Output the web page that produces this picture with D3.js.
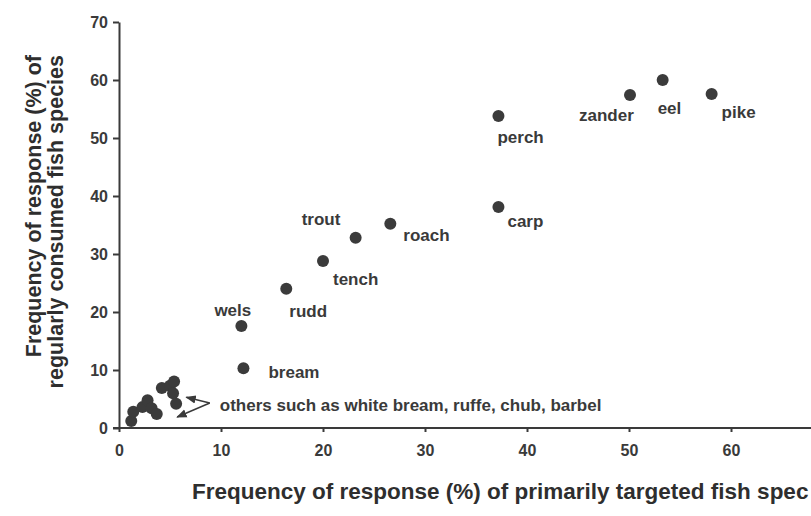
<!DOCTYPE html>
<html>
<head>
<meta charset="utf-8">
<script src="https://cdn.jsdelivr.net/npm/d3@7"></script>
<style>
  body { margin: 0; background: #fff; }
  svg { display: block; font-family: 'Liberation Sans', Arial, sans-serif; font-weight: bold; }
  .axis path, .axis line { stroke: #3a3a3a; stroke-width: 2; }
  .axis text { fill: #3a3a3a; font-size: 16px; font-weight: bold; font-family: 'Liberation Sans', Arial, sans-serif; }
  .lbl { fill: #3a3a3a; font-size: 17px; }
  .title { fill: #2e2e2e; font-size: 21.5px; }
  .xtitle { font-size: 22.5px; }
</style>
</head>
<body>
<svg width="811" height="516"></svg>
<script>
// named species: primarily targeted (%) vs regularly consumed (%)
const species = ['pike', 'eel', 'zander', 'perch', 'carp', 'roach', 'trout', 'tench', 'rudd', 'wels', 'bream'];
const targeted = [58.1, 53.3, 50.1, 37.2, 37.2, 26.6, 23.2, 20.0, 16.4, 12.0, 12.2];
const consumed = [57.6, 60.0, 57.4, 53.8, 38.1, 35.2, 32.8, 28.8, 24.0, 17.6, 10.3];

// unnamed small species in the corner
const otherTargeted = [1.2, 1.4, 2.3, 2.8, 3.2, 3.7, 4.2, 5.0, 5.4, 5.3, 5.6];
const otherConsumed = [1.2, 2.8, 3.6, 4.8, 3.4, 2.4, 6.9, 7.3, 8.0, 6.0, 4.2];
const otherLabel = 'others such as white bream, ruffe, chub, barbel';

const xTicks = [0, 10, 20, 30, 40, 50, 60];
const yTicks = [0, 10, 20, 30, 40, 50, 60, 70];
// the source figure is cropped at the right edge, so the title reads "spec"
const xTitle = 'Frequency of response (%) of primarily targeted fish spec';
const yTitle = ['Frequency of response (%) of', 'regularly consumed fish species'];

// label placement relative to each dot (px)
const labelOffset = {
  pike: [10, 24], eel: [-5, 34], zander: [-51, 26], perch: [-1, 27],
  carp: [9, 20], roach: [13, 17], trout: [-54, -13], tench: [10, 24],
  rudd: [3, 28], wels: [-27, -10], bream: [25, 10]
};

const svg = d3.select('svg');
const x = d3.scaleLinear().domain([0, 70]).range([119, 833]);
const y = d3.scaleLinear().domain([0, 70]).range([428, 22]);

svg.append('g')
  .attr('class', 'axis axis--x')
  .attr('transform', 'translate(0,428)')
  .call(d3.axisBottom(x).tickValues(xTicks).tickSize(4).tickSizeOuter(0).tickPadding(13))
  .call(g => g.select('.domain').attr('d', 'M113,0H811'));

svg.append('g')
  .attr('class', 'axis axis--y')
  .attr('transform', 'translate(119,0)')
  .call(d3.axisLeft(y).tickValues(yTicks).tickSize(6).tickSizeOuter(0).tickPadding(5));

// arrows from the label to the small-species cluster
svg.append('defs').append('marker')
  .attr('id', 'arr')
  .attr('viewBox', '0 0 10 10')
  .attr('refX', 9).attr('refY', 5)
  .attr('markerWidth', 7).attr('markerHeight', 7)
  .attr('orient', 'auto')
  .append('path').attr('d', 'M0,1L10,5L0,9z').attr('fill', '#3a3a3a');

const arrowFrom = [8.9, 4.3];
const arrowTo = [[6.6, 5.3], [5.7, 1.9]];
svg.selectAll('.arrow')
  .data(arrowTo)
  .join('line')
  .attr('class', 'arrow')
  .attr('x1', x(arrowFrom[0])).attr('y1', y(arrowFrom[1]))
  .attr('x2', d => x(d[0])).attr('y2', d => y(d[1]))
  .attr('stroke', '#3a3a3a').attr('stroke-width', 1.5)
  .attr('marker-end', 'url(#arr)');

const others = otherTargeted.map((v, i) => ({ tx: v, cy: otherConsumed[i] }));
svg.selectAll('.other')
  .data(others)
  .join('circle')
  .attr('class', 'other')
  .attr('cx', d => x(d.tx))
  .attr('cy', d => y(d.cy))
  .attr('r', 6)
  .attr('fill', '#3b3b3b');

svg.append('text')
  .attr('class', 'lbl')
  .attr('x', x(arrowFrom[0]) + 10)
  .attr('y', y(arrowFrom[1]) + 8)
  .text(otherLabel);

const data = species.map((name, i) => ({ name, tx: targeted[i], cy: consumed[i] }));

svg.selectAll('.dot')
  .data(data)
  .join('circle')
  .attr('class', 'dot')
  .attr('cx', d => x(d.tx))
  .attr('cy', d => y(d.cy))
  .attr('r', 6)
  .attr('fill', '#3b3b3b');

svg.selectAll('.name')
  .data(data)
  .join('text')
  .attr('class', 'lbl name')
  .attr('x', d => x(d.tx) + labelOffset[d.name][0])
  .attr('y', d => y(d.cy) + labelOffset[d.name][1])
  .text(d => d.name);

// axis titles
svg.append('text')
  .attr('class', 'title xtitle')
  .attr('x', 192)
  .attr('y', 499)
  .text(xTitle);

svg.selectAll('.ytitle')
  .data(yTitle)
  .join('text')
  .attr('class', 'title ytitle')
  .attr('text-anchor', 'end')
  .attr('transform', (d, i) => `translate(${41 + i * 22},55) rotate(-90)`)
  .text(d => d);
</script>
</body>
</html>
